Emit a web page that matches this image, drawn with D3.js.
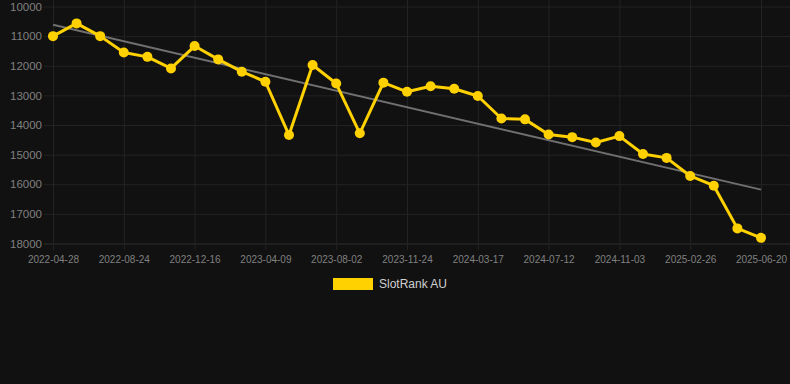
<!DOCTYPE html>
<html>
<head>
<meta charset="utf-8">
<script src="https://cdn.jsdelivr.net/npm/d3@7"></script>
<style>
  html, body { margin: 0; padding: 0; background: #111111; }
  svg { display: block; }
</style>
</head>
<body>
<div id="chart"></div>
<script>
const dates = [
  "2022-04-28","2022-06-06","2022-07-16","2022-08-24","2022-10-01","2022-11-08",
  "2022-12-16","2023-01-23","2023-03-02","2023-04-09","2023-05-17","2023-06-25",
  "2023-08-02","2023-09-09","2023-10-17","2023-11-24","2024-01-01","2024-02-08",
  "2024-03-17","2024-04-25","2024-06-03","2024-07-12","2024-08-19","2024-09-26",
  "2024-11-03","2024-12-11","2025-01-19","2025-02-26","2025-04-05","2025-05-13",
  "2025-06-20"
];
const rankAU = [
  11000,10570,11000,11550,11700,12090,11335,11785,12200,12540,
  14340,11975,12600,14280,12570,12880,12690,12775,13020,13780,
  13810,14320,14410,14590,14375,14980,15110,15720,16050,17490,
  17810
];
const yTicks = [10000,11000,12000,13000,14000,15000,16000,17000,18000];
const seriesName = "SlotRank AU";

const W = 790, H = 384;
const svg = d3.select("#chart").append("svg").attr("width", W).attr("height", H);
svg.append("rect").attr("width", W).attr("height", H).attr("fill", "#111111");

const x = d3.scalePoint().domain(dates).range([53, 761]);
const y = d3.scaleLinear().domain([10000, 18000]).range([6.5, 243.5]);

// horizontal grid
const gy = svg.append("g")
  .attr("transform", "translate(790,0)")
  .call(d3.axisLeft(y).tickValues(yTicks).tickSize(746).tickFormat(d => d).tickPadding(2));
gy.select(".domain").remove();
gy.selectAll(".tick line").attr("stroke", d => d === 18000 ? "#2e2e2e" : "#232323").attr("stroke-width", 1);
gy.selectAll(".tick text").attr("fill", "#808080").attr("font-size", "11.5px")
  .attr("font-family", "'Liberation Sans', Arial, sans-serif");

// vertical grid on labeled ticks
const labeled = dates.filter((d, i) => i % 3 === 0);
const gx = svg.append("g")
  .attr("transform", "translate(0,250)")
  .call(d3.axisBottom(x).tickValues(labeled).tickSize(-250).tickPadding(6));
gx.select(".domain").remove();
gx.selectAll(".tick line").attr("stroke", "#232323").attr("stroke-width", 1);
gx.selectAll(".tick text").attr("fill", "#808080").attr("font-size", "10px")
  .attr("font-family", "'Liberation Sans', Arial, sans-serif");

// trend line (least squares on index)
const n = rankAU.length;
const xs = d3.range(n);
const mx = d3.mean(xs), my = d3.mean(rankAU);
const slope = d3.sum(xs, i => (i - mx) * (rankAU[i] - my)) / d3.sum(xs, i => (i - mx) ** 2);
const icpt = my - slope * mx;
svg.append("line")
  .attr("x1", x(dates[0])).attr("y1", y(icpt))
  .attr("x2", x(dates[n - 1])).attr("y2", y(icpt + slope * (n - 1)))
  .attr("stroke", "#707070").attr("stroke-width", 2);

// series line
const line = d3.line().x((d, i) => x(dates[i])).y(d => y(d));
svg.append("path").datum(rankAU)
  .attr("d", line).attr("fill", "none")
  .attr("stroke", "#FFD100").attr("stroke-width", 3).attr("stroke-linejoin", "round");

svg.append("g").selectAll("circle").data(rankAU).join("circle")
  .attr("cx", (d, i) => x(dates[i])).attr("cy", d => y(d))
  .attr("r", 5).attr("fill", "#FFD100");

// legend
svg.append("rect").attr("x", 333).attr("y", 278).attr("width", 40).attr("height", 12).attr("fill", "#FFD100");
svg.append("text").attr("x", 379).attr("y", 284).attr("dy", "0.35em")
  .attr("fill", "#d0d0d0").attr("font-size", "12px")
  .attr("font-family", "'Liberation Sans', Arial, sans-serif")
  .text(seriesName);
</script>
</body>
</html>
